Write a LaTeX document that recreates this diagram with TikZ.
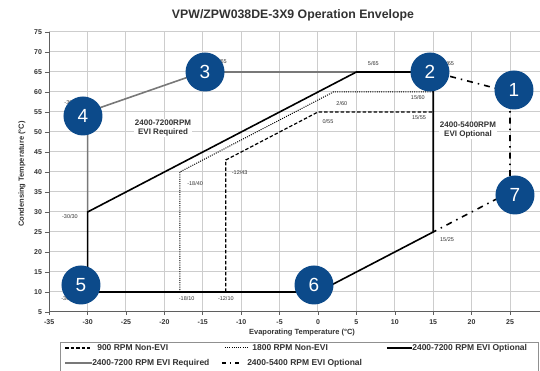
\documentclass[tikz,border=0pt]{standalone}
\usepackage{fontspec}
\setmainfont{Liberation Sans}
\usetikzlibrary{positioning}
\definecolor{badgeblue}{RGB}{12,74,138}
\definecolor{gridgray}{RGB}{205,205,205}
\definecolor{axisgray}{RGB}{95,95,95}
\definecolor{reqgray}{RGB}{120,120,120}
\definecolor{textgray}{RGB}{50,50,50}

\begin{document}
\begin{tikzpicture}[x=7.68pt,y=4pt,semithick]
	  \tikzstyle{badge}=[circle,fill=badgeblue,text=white,minimum size=39pt,inner sep=0pt,font=\fontsize{19}{19}\selectfont]
	  \tikzstyle{pointlabel}=[font=\fontsize{5.5}{6}\selectfont,text=textgray,inner sep=0pt]
	  \tikzstyle{ticklabel}=[font=\bfseries\fontsize{7}{8}\selectfont,text=textgray,inner sep=0pt]
	  \tikzstyle{axistitle}=[font=\bfseries\fontsize{7.5}{8}\selectfont,text=textgray,inner sep=0pt]
	  \tikzstyle{legendtext}=[font=\bfseries\fontsize{8.5}{9}\selectfont,text=textgray,inner sep=0pt]
	  \tikzstyle{regionlabel}=[font=\bfseries\fontsize{8}{9}\selectfont,text=textgray,fill=white,align=center,inner sep=1pt]
	  \tikzstyle{optional}=[line width=1.6pt,black]
	  \tikzstyle{required}=[line width=1.6pt,reqgray]
	  \tikzstyle{slow}=[line width=1.2pt,black,dash pattern=on 3.5pt off 2pt]
	  \tikzstyle{medium}=[line width=1pt,black,dash pattern=on 1pt off 1.2pt]
	  \tikzstyle{boost}=[line width=1.6pt,black,dash pattern=on 6pt off 5pt on 1.5pt off 5pt]

	  \useasboundingbox (-41.406,-9.75) rectangle (28.906,83);

	  % grid and axes
	  \foreach \t in {-30,-25,...,25} \draw[gridgray,line width=1pt] (\t,5) -- (\t,75);
	  \foreach \c in {10,15,...,75} \draw[gridgray,line width=1pt] (-35,\c) -- (28.906,\c);
	  \draw[axisgray,line width=1pt] (-35,75) -- (-35,5) -- (28.906,5);
	  \foreach \c in {5,10,...,75} {
	    \draw[axisgray] (-35,\c) -- ++(-4pt,0);
	    \node[ticklabel,anchor=east] at (-35.9,\c) {\c};
	  }
	  \foreach \t in {-35,-30,...,25} {
	    \draw[axisgray] (\t,5) -- ++(0,-3pt);
	    \node[ticklabel] at (\t,2.4) {\t};
	  }

	  \node[font=\bfseries\fontsize{12.3}{13}\selectfont,text=textgray] (title) at (-3.26,79.25) {VPW/ZPW038DE-3X9 Operation Envelope};
	  \node[axistitle] (xtitle) at (-2.08,-0.25) {Evaporating Temperature (°C)};
	  \node[axistitle,rotate=90] (ytitle) at (-38.54,39.5) {Condensing Temperature (°C)};

	  % envelope points
	  \coordinate (o1) at (-30,10);
	  \coordinate (o2) at (-30,30);
	  \coordinate (o3) at (5,65);
	  \coordinate (o4) at (15,65);
	  \coordinate (o5) at (15,25);
	  \coordinate (o6) at (0,10);
	  \coordinate (r1) at (-30,55);
	  \coordinate (r2) at (-15,65);
	  \coordinate (b1) at (25,60);
	  \coordinate (b2) at (25,35);
	  \coordinate (m1) at (-18,10);
	  \coordinate (m2) at (-18,40);
	  \coordinate (m3) at (2,60);
	  \coordinate (m4) at (15,60);
	  \coordinate (s1) at (-12,10);
	  \coordinate (s2) at (-12,43);
	  \coordinate (s3) at (0,55);
	  \coordinate (s4) at (15,55);

	  \draw[medium] (m1) -- (m2) -- (m3) -- (m4);
	  \draw[slow] (s1) -- (s2) -- (s3) -- (s4);
	  \draw[required] (o2) -- (r1) -- (r2) -- (o3);
	  \draw[optional] (o1) -- (o2) -- (o3) -- (o4) -- (o5) -- (o6) -- cycle;
	  \draw[boost] (o4) -- (b1) -- (b2) -- (o5);

	  % point labels
	  \node[pointlabel] (lo1) at (-32.4,8.25) {-30/10};
	  \node[pointlabel] (lo2) at (-32.3,28.75) {-30/30};
	  \node[pointlabel] (lo3) at (7.2,67) {5/65};
	  \node[pointlabel] (lo4) at (16.8,67) {15/65};
	  \node[pointlabel] (lo5) at (16.8,23) {15/25};
	  \node[pointlabel] (lo6) at (-0.65,7.5) {0/10};
	  \node[pointlabel] (lr1) at (-32,57.25) {-30/55};
	  \node[pointlabel] (lr2) at (-12.9,67.5) {-15/65};
	  \node[pointlabel] (lm1) at (-17.1,8.25) {-18/10};
	  \node[pointlabel] (lm2) at (-16,37) {-18/40};
	  \node[pointlabel] (lm3) at (3.1,57) {2/60};
	  \node[pointlabel] (lm4) at (13,58.5) {15/60};
	  \node[pointlabel] (ls1) at (-12,8.25) {-12/10};
	  \node[pointlabel] (ls2) at (-10.2,39.75) {-12/43};
	  \node[pointlabel] (ls3) at (1.3,52.5) {0/55};
	  \node[pointlabel] (ls4) at (13.15,53.5) {15/55};

	  \node[regionlabel] (required) at (-20.18,51) {2400-7200RPM\\EVI Required};
	  \node[regionlabel] (optional) at (19.53,50.5) {2400-5400RPM\\EVI Optional};

	  % legend
	  \draw[gridgray!70!black,line width=1pt] (-33.59,-2.75) rectangle (28.65,-10.5);
	  \coordinate (k1a) at (-32.94,-4);   \coordinate (k1b) at (-29.69,-4);
	  \coordinate (k2a) at (-12.11,-4);   \coordinate (k2b) at (-9.24,-4);
	  \coordinate (k3a) at (8.98,-4);     \coordinate (k3b) at (12.24,-4);
	  \coordinate (k4a) at (-32.94,-7.75); \coordinate (k4b) at (-29.43,-7.75);
	  \coordinate (k5a) at (-12.5,-7.75); \coordinate (k5b) at (-9.9,-7.75);
	  \draw[slow] (k1a) -- (k1b);
	  \draw[medium] (k2a) -- (k2b);
	  \draw[optional] (k3a) -- (k3b);
	  \draw[required,line width=1.2pt] (k4a) -- (k4b);
	  \draw[boost,dash pattern=on 4pt off 4pt on 1.5pt off 4pt] (k5a) -- (k5b);
	  \node[legendtext,right=7pt of k1b] (key1) {900 RPM Non-EVI};
	  \node[legendtext,right=5pt of k2b] (key2) {1800 RPM Non-EVI};
	  \node[legendtext,right=0pt of k3b] (key3) {2400-7200 RPM EVI Optional};
	  \node[legendtext,right=0pt of k4b] (key4) {2400-7200 RPM EVI Required};
	  \node[legendtext,right=5pt of k5b] (key5) {2400-5400 RPM EVI Optional};

	  % numbered badges
	  \node[badge] (n1) at (25.52,60.5) {1};
	  \node[badge] (n2) at (14.58,65) {2};
	  \node[badge] (n3) at (-14.71,65) {3};
	  \node[badge] (n4) at (-30.6,54) {4};
	  \node[badge] (n5) at (-30.86,11.75) {5};
	  \node[badge] (n6) at (-0.52,11.75) {6};
	  \node[badge] (n7) at (25.65,34.25) {7};
	\end{tikzpicture}
\end{document}
